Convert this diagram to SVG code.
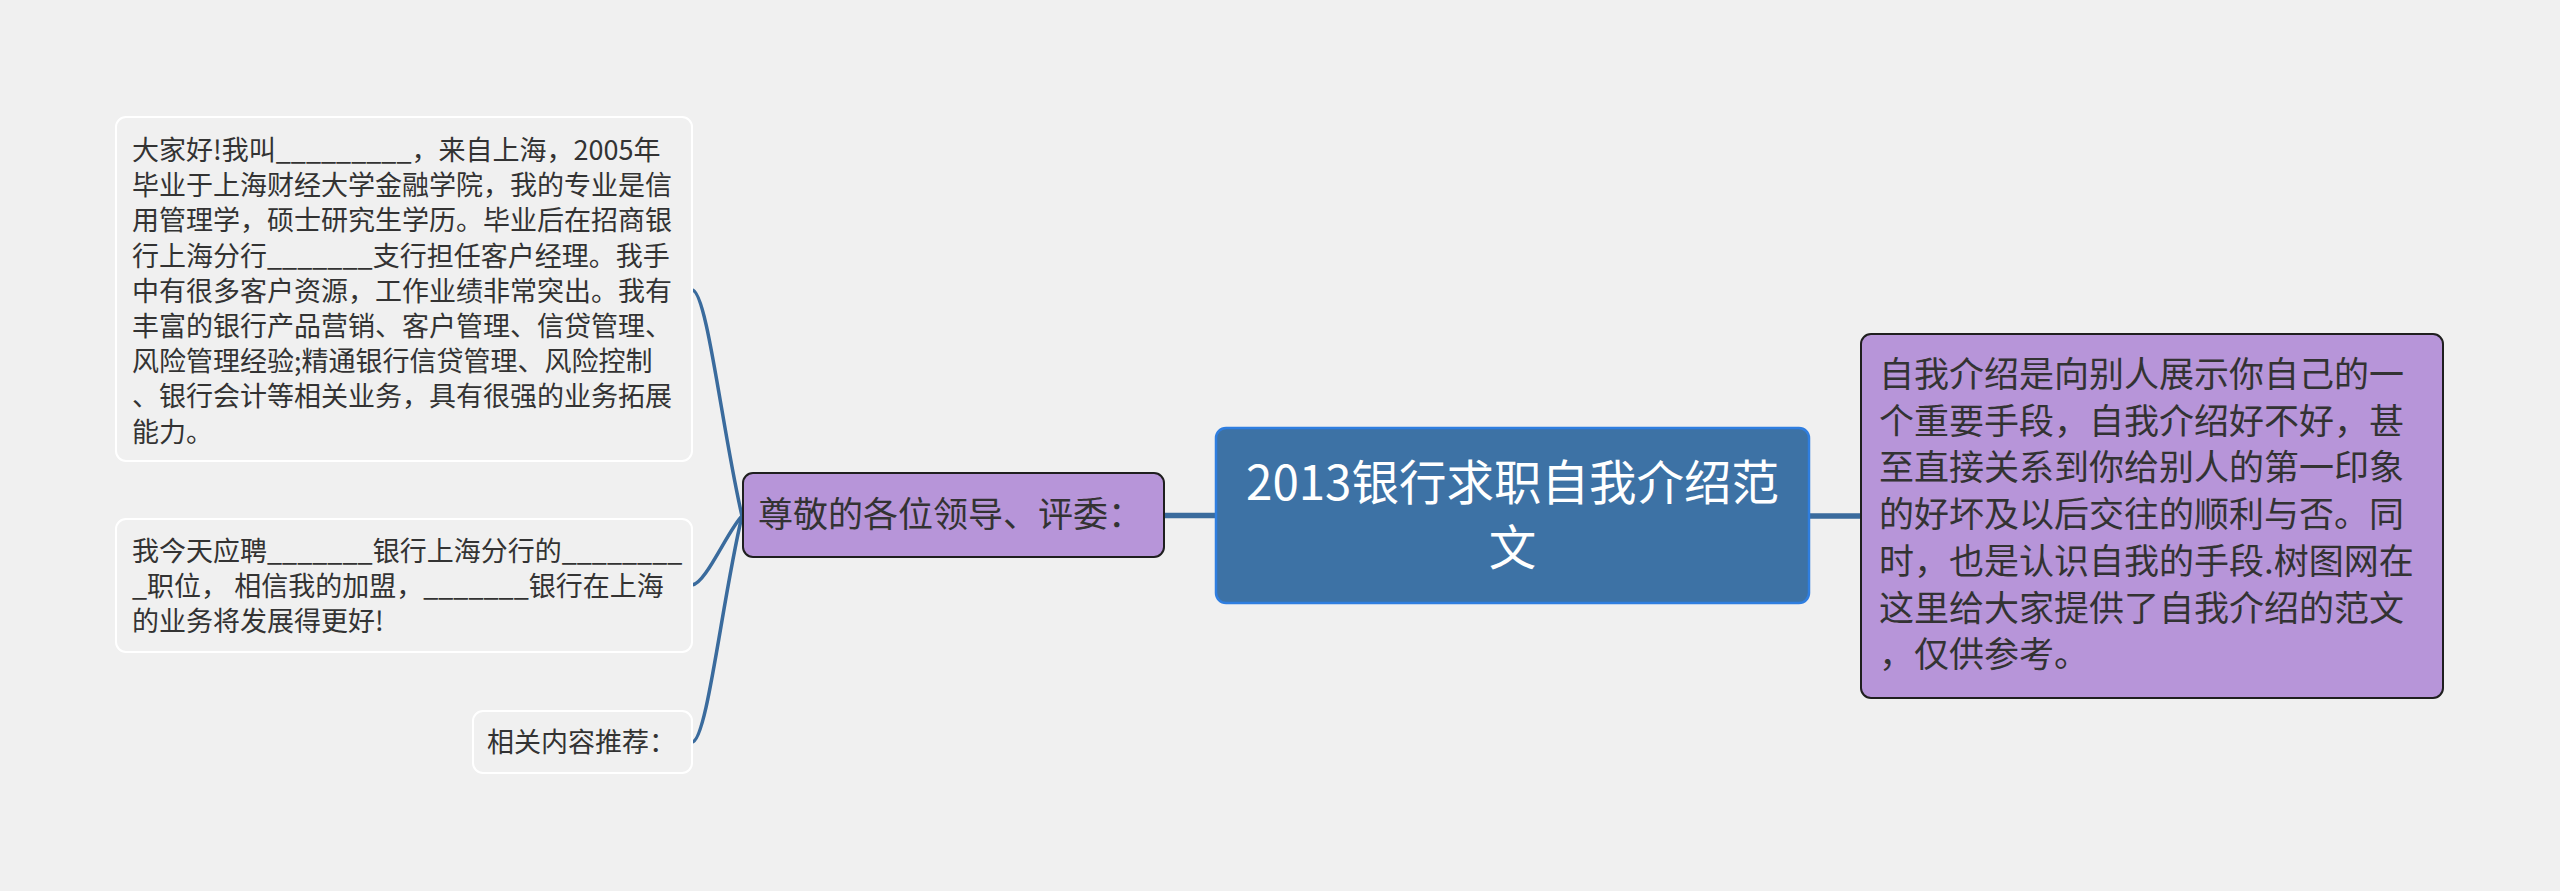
<svg xmlns="http://www.w3.org/2000/svg" width="2560" height="891" viewBox="0 0 2560 891">
<style>
.bg{fill:#f0f0f0}
.leaf{fill:#f0f0f0;stroke:#ffffff;stroke-width:2}
.purple{fill:#b795d9;stroke:#1f1f1f;stroke-width:2}
.root{fill:#3d72a5;stroke:#2f7ee0;stroke-width:2.5}
.t{font-family:"Noto Sans CJK SC","Microsoft YaHei",sans-serif;fill:#333333}
.lt{font-size:27px}
.pt{font-size:35px}
.rt{font-size:47.5px;fill:#ffffff;text-anchor:middle}
.conn{fill:none;stroke:#3a6b9d;stroke-linecap:round}
</style>
<rect class="bg" x="0" y="0" width="2560" height="891"/>
<g id="connectors">
<path class="conn" stroke-width="3.5" d="M742 516 C722 430 707 290 692 290"/>
<path class="conn" stroke-width="3.5" d="M742 516 C728 530 705 585 692 585"/>
<path class="conn" stroke-width="3.5" d="M742 516 C722 600 707 742 692 742"/>
<line class="conn" stroke-width="5.5" x1="1164" y1="515.5" x2="1216" y2="515.5"/>
<line class="conn" stroke-width="5.5" x1="1809" y1="516" x2="1861" y2="516"/>
</g>
<g id="root">
<rect class="root" x="1216" y="428" width="593" height="175" rx="10"/>
<text class="t rt" x="1512.5" y="500">2013银行求职自我介绍范</text>
<text class="t rt" x="1512.5" y="565">文</text>
</g>
<g id="node-greeting">
<rect class="purple" x="743" y="473" width="421" height="84" rx="10"/>
<text class="t pt" x="758" y="527">尊敬的各位领导、评委：</text>
</g>
<g id="node-intro">
<rect class="purple" x="1861" y="334" width="582" height="364" rx="10"/>
<text class="t pt" x="1879">
<tspan x="1879" y="387">自我介绍是向别人展示你自己的一</tspan>
<tspan x="1879" y="433.7">个重要手段，自我介绍好不好，甚</tspan>
<tspan x="1879" y="480.4">至直接关系到你给别人的第一印象</tspan>
<tspan x="1879" y="527">的好坏及以后交往的顺利与否。同</tspan>
<tspan x="1879" y="573.8">时，也是认识自我的手段.树图网在</tspan>
<tspan x="1879" y="620.5">这里给大家提供了自我介绍的范文</tspan>
<tspan x="1879" y="667">，仅供参考。</tspan>
</text>
</g>
<g id="leaf-1">
<rect class="leaf" x="116" y="117" width="576" height="344" rx="10"/>
<text class="t lt">
<tspan x="132" y="160">大家好!我叫_________，来自上海，2005年</tspan>
<tspan x="132" y="195.2">毕业于上海财经大学金融学院，我的专业是信</tspan>
<tspan x="132" y="230.4">用管理学，硕士研究生学历。毕业后在招商银</tspan>
<tspan x="132" y="265.6">行上海分行_______支行担任客户经理。我手</tspan>
<tspan x="132" y="300.8">中有很多客户资源，工作业绩非常突出。我有</tspan>
<tspan x="132" y="336">丰富的银行产品营销、客户管理、信贷管理、</tspan>
<tspan x="132" y="371.2">风险管理经验;精通银行信贷管理、风险控制</tspan>
<tspan x="132" y="406.4">、银行会计等相关业务，具有很强的业务拓展</tspan>
<tspan x="132" y="441.6">能力。</tspan>
</text>
</g>
<g id="leaf-2">
<rect class="leaf" x="116" y="519" width="576" height="133" rx="10"/>
<text class="t lt">
<tspan x="132" y="561">我今天应聘_______银行上海分行的________</tspan>
<tspan x="132" y="596">_职位， 相信我的加盟，_______银行在上海</tspan>
<tspan x="132" y="631">的业务将发展得更好!</tspan>
</text>
</g>
<g id="leaf-3">
<rect class="leaf" x="473" y="711" width="219" height="62" rx="10"/>
<text class="t lt" x="487" y="752">相关内容推荐：</text>
</g>
</svg>
